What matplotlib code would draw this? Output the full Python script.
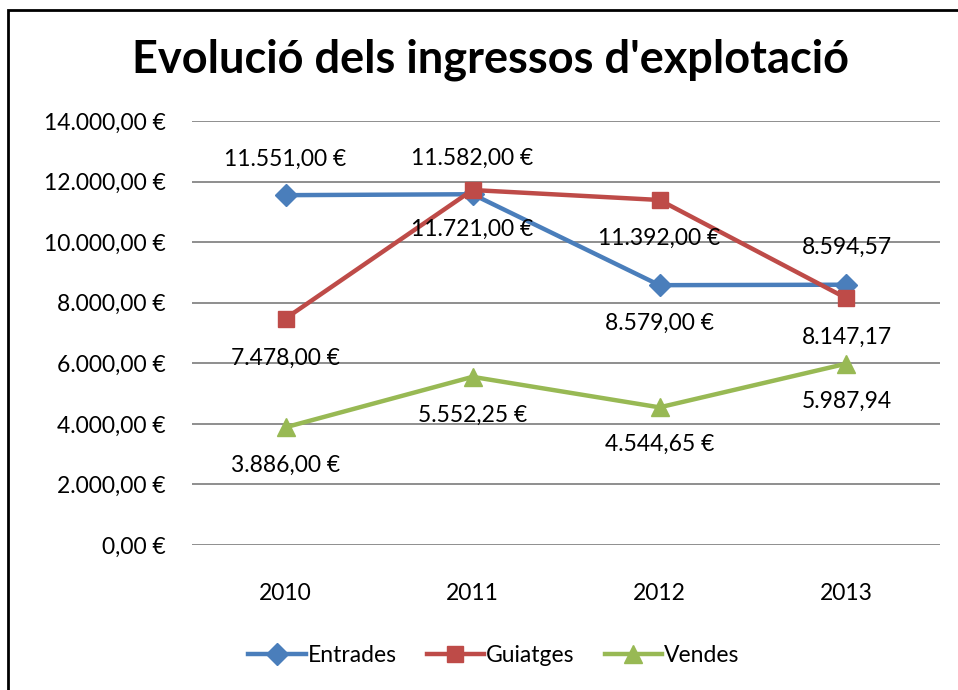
import matplotlib.pyplot as plt
from matplotlib.patches import Rectangle

years = ['2010', '2011', '2012', '2013']
entrades = [11551.00, 11582.00, 8579.00, 8594.57]
guiatges = [7478.00, 11721.00, 11392.00, 8147.17]
vendes = [3886.00, 5552.25, 4544.65, 5987.94]

entrades_lbl = ['11.551,00 €', '11.582,00 €', '8.579,00 €', '8.594,57']
guiatges_lbl = ['7.478,00 €', '11.721,00 €', '11.392,00 €', '8.147,17']
vendes_lbl = ['3.886,00 €', '5.552,25 €', '4.544,65 €', '5.987,94']

# label offset in pixels (positive = above the point)
entrades_off = [36, 36, -38, 37]
guiatges_off = [-40, -39, -38, -39]
vendes_off = [-38, -38, -37, -38]

yticks = [0, 2000, 4000, 6000, 8000, 10000, 12000, 14000]
ytick_lbl = ['0,00 €', '2.000,00 €', '4.000,00 €', '6.000,00 €', '8.000,00 €',
             '10.000,00 €', '12.000,00 €', '14.000,00 €']

plt.rcParams['font.family'] = ['Lato', 'DejaVu Sans']
FS = 16.5

fig = plt.figure(figsize=(9.58, 6.9), dpi=100)
ax = fig.add_axes([192/958, 1-545/690, (940-192)/958, (545-121)/690])

x = range(len(years))
series = [(entrades, 'Entrades', '#4A7EBB', 'D', 11, entrades_lbl, entrades_off),
          (guiatges, 'Guiatges', '#BE4B48', 's', 12, guiatges_lbl, guiatges_off),
          (vendes, 'Vendes', '#98B954', '^', 13, vendes_lbl, vendes_off)]

for vals, name, col, mk, ms, lbls, offs in series:
    ax.plot(x, vals, color=col, lw=3.2, marker=mk, markersize=ms, label=name, zorder=3)
    for xi, v, t, o in zip(x, vals, lbls, offs):
        ax.annotate(t, (xi, v), xytext=(0, o), textcoords='offset pixels',
                    ha='center', va='center', fontsize=FS, zorder=4)

ax.set_xlim(-0.5, 3.5)
ax.set_ylim(0, 14000)
ax.set_yticks(yticks)
ax.set_yticklabels(ytick_lbl, fontsize=FS)
ax.set_xticks(list(x))
ax.set_xticklabels(years, fontsize=FS)
ax.tick_params(axis='y', length=0, pad=19)
ax.tick_params(axis='x', length=0, pad=27)
ax.grid(axis='y', color='#868686', lw=1.3)
ax.set_axisbelow(True)
for s in ax.spines.values():
    s.set_visible(False)

fig.text(0.512, 1-60/690, "Evolució dels ingressos d'explotació", ha='center', va='center',
         fontsize=32.5, fontweight='bold')

fig.legend(loc='center', bbox_to_anchor=(494/958, 1-656/690), ncol=3, frameon=False,
           fontsize=FS, handlelength=2.5, columnspacing=1.3, handletextpad=0.1)

fig.patches.append(Rectangle((8/958, -0.1), 1.2, 1.1 - 10/690, transform=fig.transFigure,
                             fill=False, edgecolor='black', lw=2))

fig.savefig('out.png', dpi=100)
